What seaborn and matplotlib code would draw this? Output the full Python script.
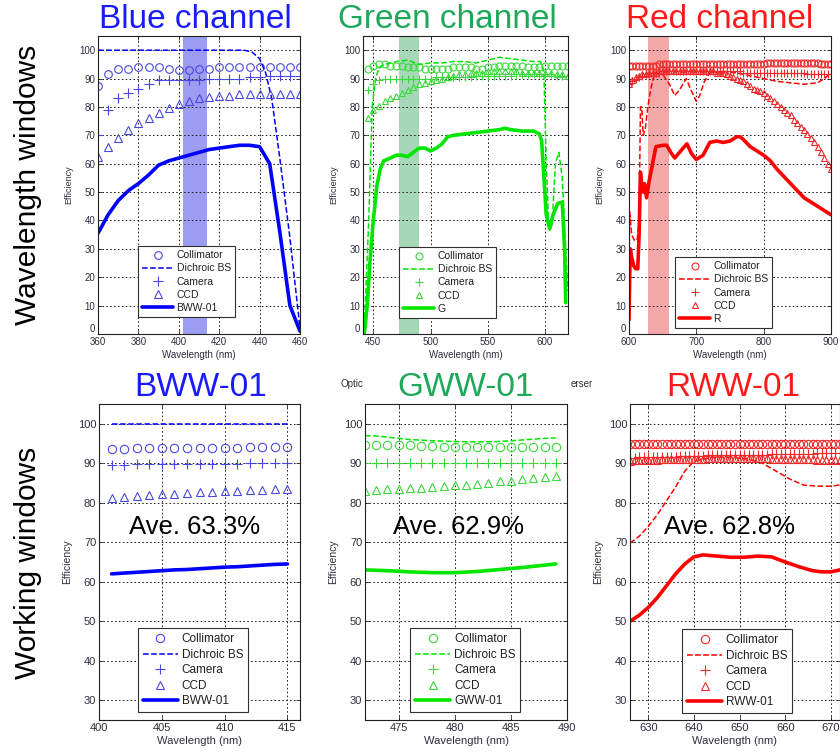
import matplotlib
matplotlib.use("Agg")
import matplotlib.pyplot as plt
import seaborn as sns

# ---- Blue channel (wavelength window) ----
wl_blue = [360, 365, 370, 375, 380, 385, 390, 395, 400, 405, 410,
           415, 420, 425, 430, 435, 440, 445, 450, 455, 460]
blue_coll = [87.5, 91.5, 93.5, 93.5, 94, 94, 94, 93.5, 93, 93, 93.5,
             93.5, 94, 94, 94, 94, 94, 94, 94, 94, 94]
blue_cam = [70, 79, 83, 85, 86.5, 88, 89.5, 89.5, 89.5, 89.5, 89.5,
            90, 90, 90, 90, 90.5, 90.5, 91, 91, 91, 91]
blue_ccd = [62.5, 66, 69, 72, 74.5, 76, 78, 79.5, 81, 82, 83,
            83.5, 84, 84, 84.5, 84.5, 84.5, 84.5, 84.5, 84.5, 84.5]
blue_tot = [35.5, 42, 47, 50.5, 53, 56, 59.5, 61, 62, 63, 64,
            65, 65.5, 66, 66.5, 66.5, 66, 60, 36, 10, 1]
blue_dbs_wl = [360, 380, 400, 420, 432, 436, 440, 443, 446, 450, 455, 460]
blue_dbs = [100, 100, 100, 100, 100, 99.5, 97, 92, 83, 62, 34, 2]

# ---- Green channel (wavelength window) ----
wl_green = [445, 450, 455, 460, 465, 470, 475, 480, 485, 490, 495, 500,
            505, 510, 515, 520, 525, 530, 535, 540, 545, 550, 555, 560,
            565, 570, 575, 580, 585, 590, 595, 600, 605, 610, 615, 620]
green_coll = [93.5, 94.5, 95, 95, 94.5, 94.5, 94.5, 94, 94, 94, 93.5, 93.5,
              93.5, 93.5, 93.5, 94, 94, 94, 94, 93.5, 93.5, 94, 94, 94.5,
              94.5, 94.5, 94.5, 94.5, 94, 94, 94, 94.5, 94.5, 94.5, 94.5, 94.5]
green_cam = [86, 88, 89.5, 90, 90, 90, 90, 90, 90, 90, 90, 90,
             90.5, 90.5, 90.5, 90.5, 90.5, 90.5, 90.5, 91, 91, 91, 91, 91,
             91, 91, 91.5, 91.5, 91.5, 91.5, 91.5, 91.5, 91.5, 91, 91, 91]
green_ccd = [76, 79, 80.5, 82, 83, 84, 85, 86, 87, 88, 88.5, 89,
             89.5, 90, 90.5, 91, 91.5, 91.5, 92, 92, 92, 92.5, 92.5, 92.5,
             92.5, 92.5, 92.5, 92, 92, 92, 92, 92, 92, 91.5, 91.5, 91]
green_dbs_wl = [441, 443, 446, 449, 452, 455, 460, 470, 480, 490, 500, 510,
                520, 530, 540, 550, 560, 570, 580, 590, 596, 599, 601, 603,
                606, 609, 612, 615, 618, 620]
green_dbs = [0, 10, 40, 80, 90, 94, 95, 96, 96.5, 95, 95.5, 95.5,
             96, 96, 95.5, 96.5, 97.5, 97, 96.5, 96, 96, 92, 60, 40,
             38, 60, 64, 55, 30, 15]
green_tot_wl = [442, 443, 445, 447, 450, 453, 456, 459, 465, 470,
                475, 480, 485, 490, 495, 500, 505, 510, 515, 520,
                530, 540, 550, 560, 565, 570, 580, 590, 595, 597,
                599, 601, 604, 607, 611, 615, 617, 618]
green_tot = [0, 3, 12, 25, 40, 52, 58, 61, 62, 63,
             63, 62.5, 64, 65.5, 65.5, 64.5, 65.5, 67, 69.5, 70,
             70.5, 71, 71.5, 72, 72.5, 72, 71.5, 71.5, 70.5, 68,
             55, 42, 37, 42, 46, 46.5, 30, 11]

# ---- Red channel (wavelength window) ----
wl_red = [600, 605, 610, 615, 620, 625, 630, 635, 640, 645,
          650, 655, 660, 665, 670, 675, 680, 685, 690, 695,
          700, 705, 710, 715, 720, 725, 730, 735, 740, 745,
          750, 755, 760, 765, 770, 775, 780, 785, 790, 795,
          800, 805, 810, 815, 820, 825, 830, 835, 840, 845,
          850, 855, 860, 865, 870, 875, 880, 885, 890, 895, 900]
red_coll = [94.5, 94.5, 94.5, 94.5, 94.5, 94.5, 94.5, 94.5, 94.5, 95,
            95, 95, 95, 95, 95, 95, 95, 95, 95, 95,
            95, 95, 95, 95, 95, 95, 95, 95, 95, 95,
            95, 95, 95, 95, 95, 95, 95, 95, 95, 95,
            95, 95.5, 95.5, 95.5, 95.5, 95.5, 95.5, 95.5, 95.5, 95.5,
            95.5, 95.5, 95.5, 95.5, 95.5, 95.5, 95.5, 95, 95, 95, 95]
red_cam = [88, 89, 90, 90.5, 91, 91.5, 92, 92, 92, 92,
           92.5, 92.5, 92.5, 92.5, 92.5, 92.5, 92.5, 92.5, 92.5, 92.5,
           92.5, 92.5, 92.5, 92.5, 92.5, 92.5, 92.5, 92.5, 92.5, 92.5,
           92.5, 92.5, 92.5, 92.5, 92, 92, 92, 92, 92, 92,
           92, 92, 92, 92, 92, 92, 92, 92, 92, 92,
           92, 92, 92, 91.5, 91.5, 91.5, 91.5, 91.5, 91.5, 91.5, 91.5]
red_ccd = [88, 89.5, 90.5, 91, 91.5, 91.5, 92, 92, 92, 92.5,
           92.5, 92.5, 92.5, 92.5, 92.5, 92.5, 92.5, 92.5, 92.5, 92.5,
           92.5, 92.5, 92.5, 92.5, 92.5, 92.5, 92, 92, 92, 91.5,
           91, 90.5, 90, 89.5, 89, 88, 87.5, 86.5, 86, 85.5,
           85, 84, 83, 82, 81, 80, 79, 78, 77, 75.5,
           74.5, 73, 72, 70.5, 69, 67.5, 66, 64, 62, 60, 58]
red_dbs_wl = [600, 601, 604, 608, 612, 615, 617, 619, 621, 624,
              628, 632, 636, 640, 650, 660, 668, 675, 685, 692,
              700, 705, 712, 720, 740, 760, 780, 800, 820, 840,
              860, 880, 890, 900]
red_dbs = [20, 43, 35, 33, 33, 40, 80, 80, 70, 72,
           80, 86, 90, 92, 91.5, 88, 84, 86, 90, 86,
           82, 84, 89, 92, 92.5, 92, 91, 90, 89, 88.5,
           88, 88.5, 90, 92]
red_tot_wl = [600, 601, 602, 604, 607, 610, 613, 615, 617, 619,
              621, 623, 626, 630, 635, 640, 650, 656, 662, 668,
              675, 686, 693, 700, 710, 720, 730, 740, 750, 760,
              765, 770, 780, 790, 800, 810, 820, 840, 860, 880, 900]
red_tot = [5, 20, 30, 27, 24, 23, 23, 35, 57, 52,
           50, 53, 48, 54, 60, 66, 66.5, 66.5, 64, 62,
           64, 67, 63.5, 61.5, 63, 67.5, 68, 67.5, 68, 69.5,
           69.5, 68.5, 66, 64.5, 63, 61, 58, 53, 48, 45, 42]

# ---- BWW-01 working window ----
wl_bww = [401, 402, 403, 404, 405, 406, 407, 408, 409, 410, 411, 412, 413, 414, 415]
bww_coll = [93.5, 93.5, 93.8, 93.8, 93.8, 93.8, 93.8, 93.8, 93.8, 93.8, 93.8, 94, 94, 94, 94]
bww_cam = [89.6, 89.6, 89.7, 89.7, 89.7, 89.8, 89.8, 89.8, 89.9, 89.9, 89.9, 90, 90, 90, 90]
bww_ccd = [81.1, 81.4, 81.7, 81.9, 82.1, 82.3, 82.5, 82.7, 82.8, 83, 83.1, 83.2, 83.3, 83.4, 83.5]
bww_dbs = [100, 100, 100, 100, 100, 100, 100, 100, 100, 100, 100, 100, 100, 100, 100]
bww_tot = [62, 62.2, 62.4, 62.6, 62.8, 63, 63.1, 63.3, 63.5, 63.7, 63.8, 64, 64.2, 64.4, 64.5]

# ---- GWW-01 working window ----
wl_gww = [472, 473, 474, 475, 476, 477, 478, 479, 480, 481, 482, 483, 484, 485, 486, 487, 488, 489]
gww_coll = [94.5, 94.5, 94.5, 94.5, 94.5, 94.3, 94.3, 94.2, 94.2, 94.2, 94.2, 94.1,
            94.1, 94.1, 94.1, 94, 94, 94]
gww_cam = [90, 90, 90, 90, 90, 90, 90, 90, 90, 90, 90, 90, 90, 90, 90, 90, 90, 90]
gww_ccd = [83, 83.2, 83.4, 83.6, 83.7, 83.8, 84, 84.2, 84.4, 84.6, 84.8, 85,
           85.4, 85.6, 86, 86.3, 86.6, 86.8]
gww_dbs_wl = [472, 473, 474, 475, 476, 478, 480, 482, 484, 486, 488, 489]
gww_dbs = [97, 96.9, 96.6, 96.3, 96, 95.7, 95.5, 95.4, 95.5, 95.9, 96.3, 96.4]
gww_tot_wl = [472, 474, 476, 478, 480, 482, 484, 486, 488, 489]
gww_tot = [63, 62.8, 62.5, 62.3, 62.3, 62.6, 63.1, 63.6, 64.2, 64.5]

# ---- RWW-01 working window ----
wl_rww = [626, 627, 628, 629, 630, 631, 632, 633, 634, 635, 636, 637,
          638, 639, 640, 641, 642, 643, 644, 645, 646, 647, 648, 649,
          650, 651, 652, 653, 654, 655, 656, 657, 658, 659, 660, 661,
          662, 663, 664, 665, 666, 667, 668, 669, 670, 671, 672]
rww_coll = [94.8, 94.8, 94.8, 94.8, 94.8, 94.8, 94.8, 94.8, 94.8, 94.8, 94.8, 94.8,
            94.8, 94.8, 94.8, 94.8, 94.9, 94.9, 94.9, 94.9, 94.9, 94.9, 94.9, 94.9,
            94.9, 94.9, 94.9, 94.9, 94.9, 94.9, 95, 95, 95, 95, 95, 95,
            95, 95, 95, 95, 95, 95, 95, 95, 95, 95, 95]
rww_cam = [91.4, 91.4, 91.5, 91.5, 91.5, 91.6, 91.6, 91.6, 91.7, 91.7, 91.7, 91.8,
           91.8, 91.8, 91.9, 91.9, 91.9, 92, 92, 92, 92, 92, 92.1, 92.1,
           92.1, 92.1, 92.2, 92.2, 92.2, 92.2, 92.2, 92.3, 92.3, 92.3, 92.3, 92.3,
           92.4, 92.4, 92.4, 92.4, 92.4, 92.5, 92.5, 92.5, 92.5, 92.5, 92.5]
rww_ccd = [90.6, 90.7, 90.7, 90.8, 90.8, 90.9, 90.9, 91, 91, 91, 91.1, 91.1,
           91.1, 91.2, 91.2, 91.2, 91.2, 91.3, 91.3, 91.3, 91.3, 91.3, 91.3, 91.3,
           91.3, 91.3, 91.3, 91.3, 91.3, 91.3, 91.3, 91.2, 91.2, 91.2, 91.2, 91.1,
           91.1, 91.1, 91, 91, 91, 90.9, 90.9, 90.9, 90.8, 90.8, 90.8]
rww_dbs_wl = [626, 628, 630, 632, 634, 636, 638, 640, 644, 648, 652, 655,
              658, 661, 664, 667, 670, 672]
rww_dbs = [69.8, 71.5, 74, 77, 80.5, 84, 88, 90.5, 91.5, 91.5, 91, 90,
           88, 86, 84.5, 84.2, 84.2, 84.5]
rww_tot_wl = [626, 628, 630, 632, 634, 636, 638, 640, 642, 645,
              648, 651, 654, 657, 660, 663, 666, 668, 670, 672]
rww_tot = [50, 51.5, 53.5, 56, 59, 62, 64.5, 66.3, 66.8, 66.5,
           66.2, 66.2, 66.5, 66.3, 65, 63.8, 62.8, 62.5, 62.5, 63]

sns.set_theme(style="ticks")
plt.rcParams["font.family"] = ["Liberation Sans", "DejaVu Sans"]
plt.rcParams["xtick.direction"] = "in"
plt.rcParams["ytick.direction"] = "in"

W, H = 840, 755
fig = plt.figure(figsize=(W / 100, H / 100), dpi=100)


def add_ax(x0, x1, y0, y1):
    # pixel box (top-left origin) -> figure fraction
    return fig.add_axes([x0 / W, 1 - y1 / H, (x1 - x0) / W, (y1 - y0) / H])


TICK_COLOR = "#2e2e3e"


def draw(ax, color, mcolor, wl, coll, cam, ccd, dwl, dbs, twl, tot, total_label,
         xlim, ylim, xticks, yticks, leg_anchor, band=None, band_color=None,
         ms=5.5, fs=7, leg_fs=8):
    if band is not None:
        ax.axvspan(band[0], band[1], color=band_color, lw=0, zorder=0)
    sns.lineplot(x=wl, y=coll, ax=ax, color=mcolor, marker="o", linestyle="none",
                 markerfacecolor="none", markeredgecolor=mcolor, markeredgewidth=0.8,
                 markersize=ms, label="Collimator")
    sns.lineplot(x=dwl, y=dbs, ax=ax, color=color, linestyle="--", linewidth=1.1,
                 label="Dichroic BS")
    sns.lineplot(x=wl, y=cam, ax=ax, color=mcolor, marker="+", linestyle="none",
                 markeredgecolor=mcolor, markeredgewidth=0.8, markersize=ms + 1,
                 label="Camera")
    sns.lineplot(x=wl, y=ccd, ax=ax, color=mcolor, marker="^", linestyle="none",
                 markerfacecolor="none", markeredgecolor=mcolor, markeredgewidth=0.8,
                 markersize=ms, label="CCD")
    sns.lineplot(x=twl, y=tot, ax=ax, color=color, linewidth=2.6, label=total_label)

    ax.set_xlim(*xlim)
    ax.set_ylim(*ylim)
    ax.set_xticks(xticks)
    ax.set_yticks(yticks)
    ax.grid(True, color="k", linestyle=(0, (1.6, 2.4)), linewidth=0.7)
    ax.tick_params(labelsize=fs, labelcolor=TICK_COLOR, length=3, width=0.6,
                   top=True, right=True, pad=2)
    if ylim[0] == 0:
        # keep the "0" label clear of the first wavelength label
        ax.yaxis.get_major_ticks()[0].label1.set_verticalalignment("bottom")
    for s in ax.spines.values():
        s.set_visible(True)
        s.set_color("#202020")
        s.set_linewidth(0.8)
    ax.set_xlabel("Wavelength (nm)", fontsize=fs, color=TICK_COLOR, labelpad=2)
    ax.set_ylabel("Efficiency", fontsize=fs - 0.5, color=TICK_COLOR, labelpad=4)
    leg = ax.legend(loc="lower left", bbox_to_anchor=leg_anchor, fontsize=leg_fs,
                    frameon=True, fancybox=False, edgecolor="#303030",
                    framealpha=1, borderaxespad=0, handlelength=3.0,
                    handletextpad=0.3, labelspacing=0.3, borderpad=0.4,
                    numpoints=1)
    leg.get_frame().set_linewidth(0.8)
    for t in leg.get_texts():
        t.set_color("#202020")


BLUE, BLUE_M = "#0000ff", "#4848e0"
GREEN, GREEN_M = "#00e600", "#3ad83a"
RED, RED_M = "#ff0000", "#f02a2a"

top_y = (36, 334)
bot_y = (404, 720)

ax = add_ax(98, 300, *top_y)
draw(ax, BLUE, BLUE_M, wl_blue, blue_coll, blue_cam, blue_ccd, blue_dbs_wl, blue_dbs,
     wl_blue, blue_tot, "BWW-01", (360, 460), (0, 105), range(360, 461, 20),
     range(0, 101, 10), (0.198, 0.057), band=(402, 414), band_color="#9c9cf2",
     ms=5.5, fs=7, leg_fs=7.5)

ax = add_ax(363, 568, *top_y)
draw(ax, GREEN, GREEN_M, wl_green, green_coll, green_cam, green_ccd, green_dbs_wl,
     green_dbs, green_tot_wl, green_tot, "G", (441, 620), (0, 105),
     [450, 500, 550, 600], range(0, 101, 10), (0.176, 0.054), band=(472, 490),
     band_color="#a6d8b8", ms=5, fs=7, leg_fs=7.5)

ax = add_ax(629, 831, *top_y)
draw(ax, RED, RED_M, wl_red, red_coll, red_cam, red_ccd, red_dbs_wl, red_dbs,
     red_tot_wl, red_tot, "R", (600, 900), (0, 105), [600, 700, 800, 900],
     range(0, 101, 10), (0.228, 0.02), band=(628, 660), band_color="#f5a8a8",
     ms=5, fs=7, leg_fs=7.5)

ax = add_ax(99, 300, *bot_y)
draw(ax, BLUE, BLUE_M, wl_bww, bww_coll, bww_cam, bww_ccd, wl_bww, bww_dbs,
     wl_bww, bww_tot, "BWW-01", (400, 416), (25, 105), [400, 405, 410, 415],
     range(30, 101, 10), (0.194, 0.025), ms=6, fs=8, leg_fs=8.5)

ax = add_ax(365, 567, *bot_y)
draw(ax, GREEN, GREEN_M, wl_gww, gww_coll, gww_cam, gww_ccd, gww_dbs_wl, gww_dbs,
     gww_tot_wl, gww_tot, "GWW-01", (472, 490), (25, 105), [475, 480, 485, 490],
     range(30, 101, 10), (0.224, 0.025), ms=6, fs=8, leg_fs=8.5)

ax = add_ax(630, 840, *bot_y)
draw(ax, RED, RED_M, wl_rww, rww_coll, rww_cam, rww_ccd, rww_dbs_wl, rww_dbs,
     rww_tot_wl, rww_tot, "RWW-01", (626, 672), (25, 105), [630, 640, 650, 660, 670],
     range(30, 101, 10), (0.248, 0.022), ms=6, fs=8, leg_fs=8.5)

# panel titles
def ftext(x, y, s, **kw):
    fig.text(x / W, 1 - y / H, s, ha="center", va="center", **kw)


ftext(195, 20, "Blue channel", fontsize=24, color="#1a1aff")
ftext(447, 20, "Green channel", fontsize=24, color="#1ea85a")
ftext(720, 20, "Red channel", fontsize=24, color="#ff1a1a")
ftext(201, 388, "BWW-01", fontsize=24, color="#1a1aff")
ftext(466, 388, "GWW-01", fontsize=24, color="#1ea85a")
ftext(733, 388, "RWW-01", fontsize=24, color="#ff1a1a")

ftext(28, 185, "Wavelength windows", fontsize=21.5, rotation=90, color="black")
ftext(28, 563, "Working windows", fontsize=21.5, rotation=90, color="black")

ftext(195, 527, "Ave. 63.3%", fontsize=18.5, color="black")
ftext(459, 527, "Ave. 62.9%", fontsize=18.5, color="black")
ftext(729, 527, "Ave. 62.8%", fontsize=18.5, color="black")

ftext(352, 384, "Optic", fontsize=7, color="#303030")
fig.text(571 / W, 1 - 384 / H, "erser", ha="left", va="center", fontsize=7,
         color="#303030")

fig.savefig("out.png", dpi=100)
